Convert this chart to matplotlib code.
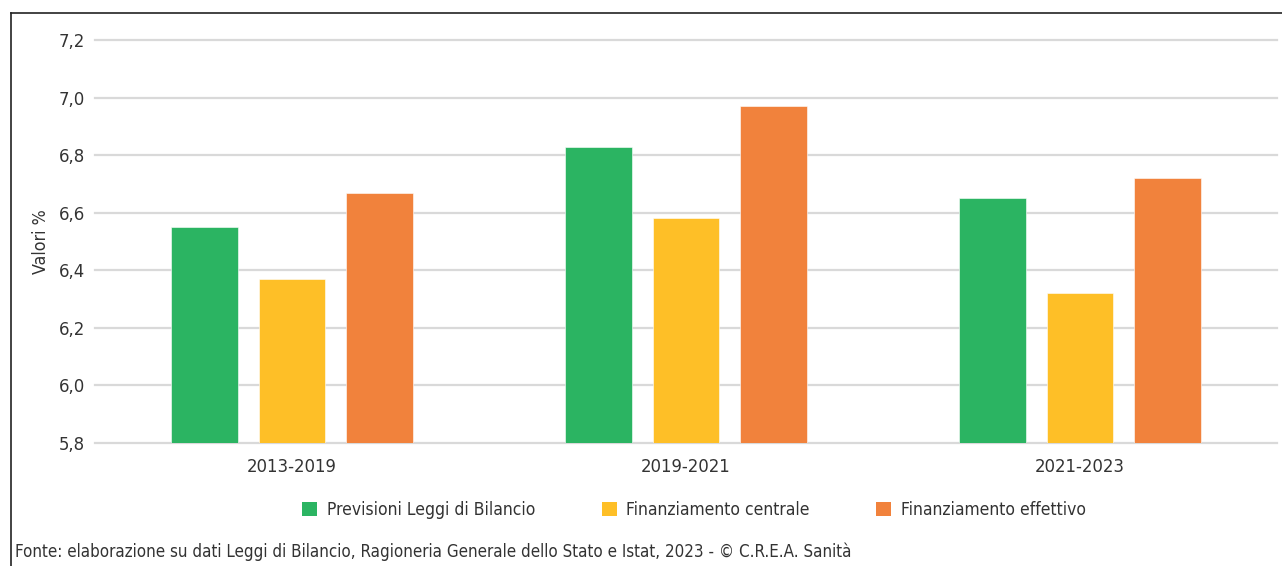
import matplotlib.pyplot as plt
from matplotlib.patches import Patch
from matplotlib.lines import Line2D
import numpy as np

plt.rcParams['font.family'] = ['DejaVu Sans']
plt.rcParams['font.stretch'] = 'condensed'

# Data
periods = ['2013-2019', '2019-2021', '2021-2023']
series_names = ['Previsioni Leggi di Bilancio', 'Finanziamento centrale', 'Finanziamento effettivo']
previsioni = [6.55, 6.83, 6.65]
centrale = [6.37, 6.58, 6.32]
effettivo = [6.67, 6.97, 6.72]
y_ticks = [5.8, 6.0, 6.2, 6.4, 6.6, 6.8, 7.0, 7.2]
source = 'Fonte: elaborazione su dati Leggi di Bilancio, Ragioneria Generale dello Stato e Istat, 2023 - © C.R.E.A. Sanità'

COLORS = ['#2bb462', '#febf27', '#f1823c']
TEXT = '#333333'
W, H = 1282, 566

fig = plt.figure(figsize=(W / 100, H / 100), dpi=100)
ax = fig.add_axes([95 / W, 1 - 443 / H, (1277 - 95) / W, (443 - 40) / H])

x = np.arange(len(periods))
width = 0.17
step = 0.222
base = 5.8
for i, vals in enumerate([previsioni, centrale, effettivo]):
    heights = [v - base for v in vals]
    ax.bar(x + (i - 1) * step, heights, width, bottom=base, color=COLORS[i],
           edgecolor='white', linewidth=0.4, zorder=3)

ax.set_xlim(-0.5, 2.5)
ax.set_ylim(5.8, 7.2)
ax.set_yticks(y_ticks)
ax.set_yticklabels([f'{t:.1f}'.replace('.', ',') for t in y_ticks])
ax.set_xticks(x)
ax.set_xticklabels(periods)
for gl in ax.yaxis.get_gridlines():
    gl.set_clip_on(False)
ax.grid(axis='y', color='#d9d9d9', linewidth=1.6, zorder=0)
ax.set_axisbelow(True)
for s in ax.spines.values():
    s.set_visible(False)
ax.tick_params(axis='both', length=0, labelsize=13.2, colors=TEXT)
ax.tick_params(axis='y', pad=7)
ax.tick_params(axis='x', pad=11)
ax.set_ylabel('Valori %', fontsize=12.8, color=TEXT)
ax.yaxis.set_label_coords((50 - 95) / 1182, 0.5)

handles = [Patch(facecolor=c, edgecolor='none') for c in COLORS]
fig.legend(handles, series_names, loc='center', bbox_to_anchor=(694 / W, 1 - 510 / H),
           ncol=3, frameon=False, fontsize=12.5, labelcolor=TEXT,
           handlelength=0.85, handleheight=0.85, handletextpad=0.55, columnspacing=3.85)

fig.text(15 / W, 1 - 552 / H, source, fontsize=12.2, color=TEXT, va='center', ha='left')

# frame lines (top and left)
fig.add_artist(Line2D([11 / W, 1], [1 - 13 / H, 1 - 13 / H], color='#222222', linewidth=1.2))
fig.add_artist(Line2D([11 / W, 11 / W], [0, 1 - 13 / H], color='#222222', linewidth=1.2))

fig.savefig('out.png', dpi=100)
